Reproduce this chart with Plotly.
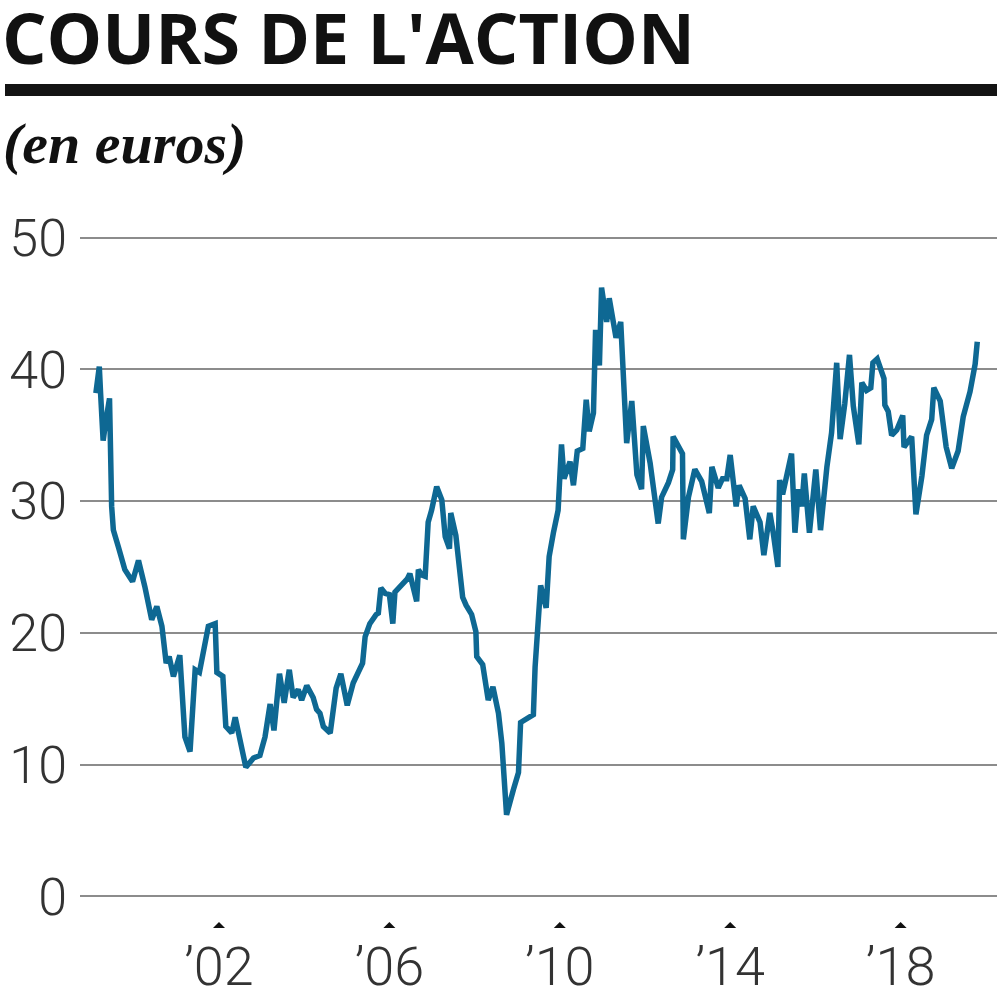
import plotly.graph_objects as go

# ---- data ----
years = [
    1999.11, 1999.19, 1999.22, 1999.28, 1999.35, 1999.43, 1999.48, 1999.52, 1999.64, 1999.79,
    1999.97, 2000.11, 2000.26, 2000.42, 2000.54, 2000.66, 2000.76, 2000.83, 2000.93, 2001.08,
    2001.20, 2001.32, 2001.44, 2001.54, 2001.75, 2001.91, 2001.95, 2002.09, 2002.16, 2002.30,
    2002.38, 2002.49, 2002.63, 2002.81, 2002.96, 2003.08, 2003.20, 2003.29, 2003.42, 2003.53,
    2003.65, 2003.74, 2003.86, 2003.94, 2004.06, 2004.21, 2004.29, 2004.37, 2004.45, 2004.61,
    2004.75, 2004.86, 2005.01, 2005.15, 2005.31, 2005.37, 2005.43, 2005.54, 2005.69, 2005.74,
    2005.80, 2005.90, 2006.00, 2006.08, 2006.13, 2006.25, 2006.42, 2006.48, 2006.56, 2006.64,
    2006.68, 2006.76, 2006.84, 2006.86, 2006.91, 2006.99, 2007.11, 2007.23, 2007.31, 2007.41,
    2007.44, 2007.56, 2007.66, 2007.72, 2007.80, 2007.93, 2008.03, 2008.05, 2008.19, 2008.32,
    2008.43, 2008.56, 2008.64, 2008.75, 2008.91, 2009.03, 2009.08, 2009.22, 2009.38, 2009.42,
    2009.46, 2009.55, 2009.68, 2009.75, 2009.85, 2009.96, 2010.04, 2010.10, 2010.24, 2010.32,
    2010.41, 2010.54, 2010.62, 2010.69, 2010.79, 2010.84, 2010.93, 2010.98, 2011.10, 2011.16,
    2011.32, 2011.43, 2011.57, 2011.69, 2011.81, 2011.92, 2011.96, 2012.12, 2012.31, 2012.39,
    2012.55, 2012.65, 2012.66, 2012.88, 2012.90, 2013.02, 2013.17, 2013.33, 2013.51, 2013.57,
    2013.72, 2013.82, 2013.92, 2014.00, 2014.14, 2014.21, 2014.35, 2014.46, 2014.54, 2014.70,
    2014.79, 2014.93, 2015.01, 2015.12, 2015.16, 2015.23, 2015.44, 2015.52, 2015.60, 2015.68,
    2015.74, 2015.86, 2016.01, 2016.12, 2016.27, 2016.38, 2016.50, 2016.58, 2016.69, 2016.80,
    2016.89, 2017.02, 2017.09, 2017.20, 2017.30, 2017.35, 2017.45, 2017.61, 2017.63, 2017.71,
    2017.79, 2017.91, 2018.05, 2018.08, 2018.26, 2018.36, 2018.50, 2018.61, 2018.73, 2018.78,
    2018.93, 2019.07, 2019.20, 2019.35, 2019.47, 2019.63, 2019.75, 2019.80,
]
prices = [
    38.2, 40.2, 38.2, 34.6, 36.2, 37.8, 29.6, 27.8, 26.5, 24.8,
    23.9, 25.5, 23.5, 21.0, 22.0, 20.5, 17.7, 18.2, 16.7, 18.3,
    12.1, 11.0, 17.2, 17.0, 20.5, 20.7, 17.0, 16.7, 12.9, 12.4,
    13.6, 12.1, 9.8, 10.5, 10.7, 12.1, 14.6, 12.6, 16.9, 14.7,
    17.2, 15.1, 15.7, 14.9, 16.0, 15.1, 14.2, 13.9, 12.9, 12.4,
    15.8, 16.9, 14.5, 16.2, 17.2, 17.7, 19.7, 20.7, 21.4, 21.5,
    23.4, 23.0, 22.9, 20.7, 23.1, 23.5, 24.1, 24.5, 23.5, 22.4,
    24.8, 24.4, 24.3, 25.5, 28.4, 29.3, 31.1, 30.1, 27.3, 26.4,
    29.1, 27.4, 24.8, 22.7, 22.1, 21.4, 20.1, 18.2, 17.6, 14.9,
    15.9, 13.9, 11.6, 6.2, 8.1, 9.4, 13.2, 13.5, 13.8, 17.4,
    19.9, 23.6, 21.9, 25.8, 27.6, 29.3, 34.3, 31.7, 33.0, 31.2,
    33.8, 34.0, 37.7, 35.3, 36.7, 43.0, 40.3, 46.2, 43.6, 45.4,
    42.4, 43.6, 34.4, 37.6, 32.0, 30.9, 35.7, 32.9, 28.3, 30.3,
    31.4, 32.4, 34.9, 33.6, 27.1, 30.3, 32.4, 31.5, 29.1, 32.6,
    31.0, 31.7, 31.7, 33.5, 29.6, 31.2, 30.2, 27.1, 29.6, 28.4,
    25.9, 29.1, 27.6, 25.0, 31.6, 30.5, 33.6, 27.6, 30.9, 29.6,
    32.1, 27.6, 32.4, 27.8, 32.6, 35.2, 40.5, 34.7, 37.4, 41.1,
    37.2, 34.3, 39.0, 38.4, 38.6, 40.5, 40.8, 39.3, 37.3, 36.8,
    35.0, 35.4, 36.5, 34.1, 34.9, 29.0, 31.9, 35.0, 36.2, 38.6,
    37.6, 34.1, 32.5, 33.8, 36.4, 38.3, 40.4, 42.1,
]
tick_years = [2002, 2006, 2010, 2014, 2018]
tick_labels = ["\u201902", "\u201906", "\u201910", "\u201914", "\u201918"]
y_ticks = [0, 10, 20, 30, 40, 50]

title_text = "COURS DE L'ACTION"
subtitle_text = "(en euros)"

# ---- layout geometry (pixels) ----
W, H = 997, 1000
L, R, T, B = 80, 0, 231, 97
PW, PH = W - L - R, H - T - B


def px_x(px):
    return (px - L) / PW


def px_y(py):
    return (H - B - py) / PH


LINE_COLOR = "#0e6893"
TEXT_FONT = "Roboto"

fig = go.Figure()
fig.add_trace(go.Scatter(
    x=years, y=prices, mode="lines",
    line=dict(color=LINE_COLOR, width=5.5, shape="linear"),
    hoverinfo="skip", showlegend=False,
))

fig.update_layout(
    width=W, height=H,
    margin=dict(l=L, r=R, t=T, b=B, autoexpand=False),
    paper_bgcolor="white", plot_bgcolor="white",
    showlegend=False,
    xaxis=dict(
        range=[1998.737, 2020.263],
        tickvals=tick_years, ticktext=tick_labels,
        showgrid=False, zeroline=False, showline=False,
        ticks="", ticklabelstandoff=27, automargin=False,
        tickfont=dict(family=TEXT_FONT, size=54, color="#333333", weight=300),
    ),
    yaxis=dict(
        range=[-0.5, 50.5],
        tickvals=y_ticks,
        showgrid=True, gridcolor="#8c8c8c", gridwidth=2,
        zeroline=False, showline=False, ticks="",
        ticklabelstandoff=12, automargin=False,
        tickfont=dict(family=TEXT_FONT, size=52, color="#333333", weight=300),
    ),
)

# title, rule, subtitle
fig.add_annotation(
    xref="paper", yref="paper", x=px_x(0), y=px_y(37),
    xanchor="left", yanchor="middle", showarrow=False,
    text=f"<b>{title_text}</b>",
    font=dict(family="Open Sans", size=70, color="#111111", weight=800),
)
fig.add_shape(
    type="line", xref="paper", yref="paper",
    x0=px_x(5), x1=1.0, y0=px_y(90), y1=px_y(90),
    line=dict(color="#141414", width=12),
)
fig.add_annotation(
    xref="paper", yref="paper", x=px_x(1), y=px_y(143),
    xanchor="left", yanchor="middle", showarrow=False,
    text=f"<b><i>{subtitle_text}</i></b>",
    font=dict(family="Liberation Serif", size=58, color="#111111"),
)

# small triangles above the year labels
for t in tick_years:
    fig.add_shape(
        type="path", xref="x", yref="paper",
        xsizemode="pixel", ysizemode="pixel",
        xanchor=t, yanchor=0,
        path="M -6,-25 L 6,-25 L 0,-19 Z",
        fillcolor="#111111", line=dict(width=0),
    )

fig.write_html(
    "out.html",
    config={"displayModeBar": False},
    post_script="document.body.style.margin='0';document.body.style.padding='0';",
)
